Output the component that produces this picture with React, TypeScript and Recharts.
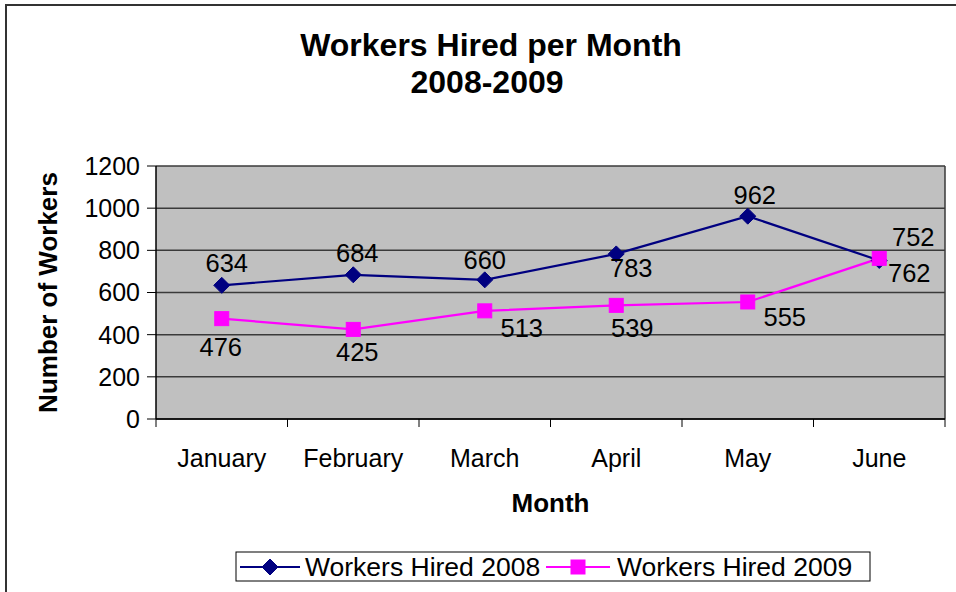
import { ComposedChart, Line, XAxis, YAxis, CartesianGrid } from 'recharts';

const months = ['January', 'February', 'March', 'April', 'May', 'June'];
const hired2008 = [634, 684, 660, 783, 962, 752];
const hired2009 = [476, 425, 513, 539, 555, 762];
const yTicks = [0, 200, 400, 600, 800, 1000, 1200];
const seriesNames = ['Workers Hired 2008', 'Workers Hired 2009'];

// where each data label sits relative to its marker (dx, dy of the text centre)
const labelPos2008 = [[5, -22], [4, -22], [0, -20], [15, 14], [7, -21], [34, -23]];
const labelPos2009 = [[-1, 28], [4, 23], [37, 17], [16, 23], [37, 15], [30, 15]];

const W = 956;
const H = 592;
const margin = { top: 166, right: 11, bottom: 143, left: 96 };
const Y_AXIS_W = 60;
const X_AXIS_H = 30;
const plotLeft = margin.left + Y_AXIS_W;
const plotRight = W - margin.right;
const plotBottom = H - margin.bottom - X_AXIS_H;
const band = (plotRight - plotLeft) / months.length;

const NAVY = '#000080';
const MAGENTA = '#FF00FF';
const FONT = '"Liberation Sans", Arial, sans-serif';

const data = months.map((m, i) => ({ month: m, y2008: hired2008[i], y2009: hired2009[i] }));

function Diamond({ cx, cy, r = 8 }: { cx: number; cy: number; r?: number }) {
  return <path d={`M${cx},${cy - r}L${cx + r},${cy}L${cx},${cy + r}L${cx - r},${cy}Z`} fill={NAVY} stroke={NAVY} />;
}

function Square({ cx, cy, s = 14 }: { cx: number; cy: number; s?: number }) {
  return <rect x={cx - s / 2} y={cy - s / 2} width={s} height={s} fill={MAGENTA} stroke={MAGENTA} />;
}

function MonthTick(props: any) {
  const { x, y, payload, index } = props;
  return (
    <g>
      <line x1={x - band / 2} x2={x - band / 2} y1={y} y2={y + 8} stroke="#000" />
      {index === months.length - 1 && <line x1={x + band / 2} x2={x + band / 2} y1={y} y2={y + 8} stroke="#000" />}
      <text x={x} y={y + 39} textAnchor="middle" dominantBaseline="central" fontSize={25} fontFamily={FONT} fill="#000">
        {payload.value}
      </text>
    </g>
  );
}

const makeLabel = (pos: number[][]) => (props: any) => {
  const { x, y, value, index } = props;
  const [dx, dy] = pos[index] || [0, -20];
  return (
    <text key={`l-${index}`} x={x + dx} y={y + dy} textAnchor="middle" dominantBaseline="central" fontSize={25.5} fontFamily={FONT} fill="#000">
      {value}
    </text>
  );
};

export default function App() {
  return (
    <div style={{ position: 'absolute', left: 0, top: 0, width: W, height: H, overflow: 'hidden', background: '#fff', fontFamily: FONT }}>
      <ComposedChart width={W} height={H} data={data} margin={margin}>
        <CartesianGrid
          fill="#C0C0C0"
          stroke="#3a3a3a"
          strokeWidth={1.5}
          verticalCoordinatesGenerator={() => [plotRight]}
        />
        <XAxis
          dataKey="month"
          scale="band"
          height={X_AXIS_H}
          tickSize={0}
          tickMargin={0}
          tick={<MonthTick />}
          axisLine={{ stroke: '#000', strokeWidth: 1.5 }}
          interval={0}
        />
        <YAxis
          width={Y_AXIS_W}
          domain={[0, 1200]}
          ticks={yTicks}
          interval={0}
          tickSize={9}
          tickMargin={7}
          tick={{ fontSize: 25, fill: '#000', fontFamily: FONT }}
          tickLine={{ stroke: '#000' }}
          axisLine={{ stroke: '#000', strokeWidth: 1.5 }}
        />
        <Line
          dataKey="y2008"
          name={seriesNames[0]}
          stroke={NAVY}
          strokeWidth={2.2}
          isAnimationActive={false}
          dot={(p: any) => <Diamond key={`d-${p.index}`} cx={p.cx} cy={p.cy} />}
          label={makeLabel(labelPos2008)}
        />
        <Line
          dataKey="y2009"
          name={seriesNames[1]}
          stroke={MAGENTA}
          strokeWidth={2.2}
          isAnimationActive={false}
          dot={(p: any) => <Square key={`s-${p.index}`} cx={p.cx} cy={p.cy} />}
          label={makeLabel(labelPos2009)}
        />
      </ComposedChart>
      <div style={{ position: 'absolute', left: 5, top: 4, width: 1000, height: 700, border: '2px solid #333', pointerEvents: 'none' }} />
      <svg width={W} height={H} style={{ position: 'absolute', left: 0, top: 0, pointerEvents: 'none' }} fontFamily={FONT}>
        <text x={491} y={45} textAnchor="middle" dominantBaseline="central" fontSize={32} fontWeight="bold">Workers Hired per Month</text>
        <text x={487} y={82} textAnchor="middle" dominantBaseline="central" fontSize={32} fontWeight="bold">2008-2009</text>
        <text x={(plotLeft + plotRight) / 2} y={503} textAnchor="middle" dominantBaseline="central" fontSize={26} fontWeight="bold">Month</text>
        <text
          x={48}
          y={(margin.top + plotBottom) / 2}
          textAnchor="middle"
          dominantBaseline="central"
          fontSize={26}
          fontWeight="bold"
          transform={`rotate(-90 48 ${(margin.top + plotBottom) / 2})`}
        >
          Number of Workers
        </text>
        <rect x={236} y={552} width={634} height={29} fill="#fff" stroke="#000" />
        <line x1={240} x2={300} y1={567} y2={567} stroke={NAVY} strokeWidth={2} />
        <Diamond cx={270} cy={567} />
        <text x={305} y={567} dominantBaseline="central" fontSize={26.5}>{seriesNames[0]}</text>
        <line x1={546} x2={610} y1={567} y2={567} stroke={MAGENTA} strokeWidth={2} />
        <Square cx={578} cy={567} />
        <text x={617} y={567} dominantBaseline="central" fontSize={26.5}>{seriesNames[1]}</text>
      </svg>
    </div>
  );
}
